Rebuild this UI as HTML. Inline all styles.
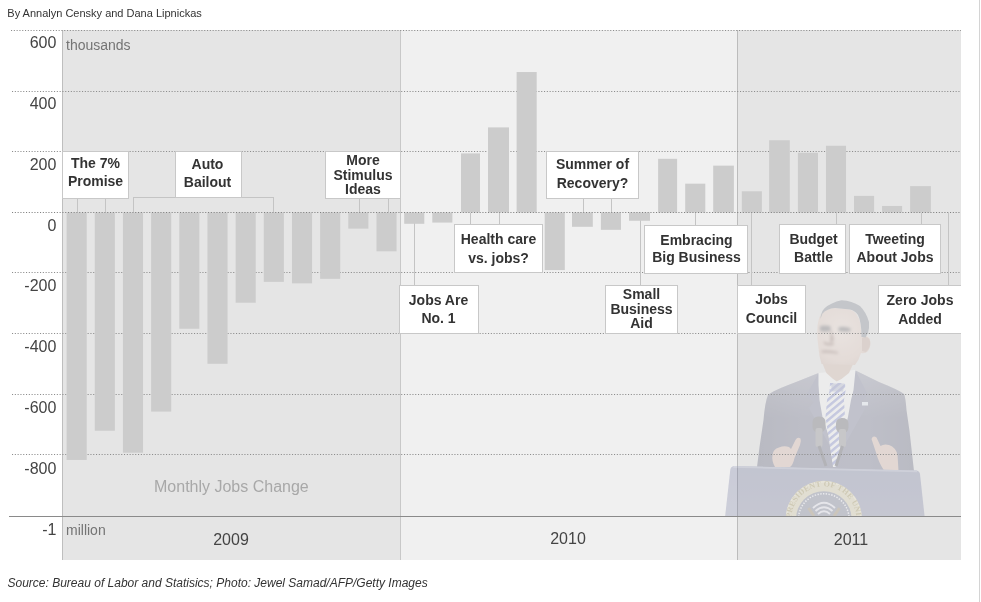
<!DOCTYPE html>
<html lang="en">
<head>
<meta charset="utf-8">
<title>Monthly Jobs Change</title>
<style>
html,body{margin:0;padding:0;background:#fff;}
body{width:981px;height:602px;position:relative;overflow:hidden;font-family:"Liberation Sans",sans-serif;color:#333;}
#c{position:absolute;left:0;top:0;width:981px;height:602px;overflow:hidden;}
#c div{position:absolute;box-sizing:border-box;}
.by{left:7.3px;top:6px;font-size:11px;line-height:14px;color:#333;white-space:nowrap;}
.src{left:7.5px;top:576px;font-size:12px;line-height:14px;font-style:italic;color:#333;white-space:nowrap;}
.reg{top:30px;height:530px;}
.r1{left:62px;width:338px;background:#e5e5e5;border-left:1px solid #bebebe;}
.r2{left:400px;width:337px;background:#f0f0f0;border-left:1px solid #c8c8c8;}
.r3{left:737px;width:224px;background:#e5e5e5;border-left:1px solid #bcbcbc;}
.g{left:11px;width:950px;height:1px;background:repeating-linear-gradient(90deg,#9a9a9a 0,#9a9a9a 1px,transparent 1px,transparent 2.8px);}
.z{left:11px;width:950px;height:1px;background:repeating-linear-gradient(90deg,#777 0,#777 1px,transparent 1px,transparent 2.8px);}
.ax{left:9px;width:952px;top:516px;height:1px;background:#8a8a8a;}
.b{background:#cacaca;width:20px;}
.yl{left:0;width:56.4px;text-align:right;font-size:16px;line-height:18px;color:#444;white-space:nowrap;}
.u{left:66px;font-size:14px;line-height:16px;color:#747474;white-space:nowrap;}
.yr{font-size:16px;line-height:18px;color:#444;text-align:center;width:80px;white-space:nowrap;}
.mj{left:154px;top:477px;font-size:16px;line-height:20px;color:#a8a8a8;white-space:nowrap;}
.bx{background:#fff;border:1px solid #c8c8c8;font-weight:bold;font-size:14px;line-height:18px;color:#333;text-align:center;white-space:nowrap;}
#c .t{left:0;width:100%;height:16px;line-height:16px;}
.v{width:1px;background:#c4c4c4;}
.h{height:1px;background:#c4c4c4;}
.rl{left:979px;top:0;width:1px;height:602px;background:#d4d4d4;}
</style>
</head>
<body>
<div id="c">
<div class="by">By Annalyn Censky and Dana Lipnickas</div>
<div class="reg r1"></div><div class="reg r2"></div><div class="reg r3"></div>
<svg width="981" height="602" viewBox="0 0 981 602" style="position:absolute;left:0;top:0">
<defs>
<clipPath id="pc"><rect x="700" y="290" width="261" height="226"/></clipPath>
<filter id="b1" x="-10%" y="-10%" width="120%" height="120%"><feGaussianBlur stdDeviation="0.6"/></filter>
<filter id="b2" x="-30%" y="-30%" width="160%" height="160%"><feGaussianBlur stdDeviation="1.4"/></filter>
<linearGradient id="suit" x1="0" y1="0" x2="1" y2="0"><stop offset="0" stop-color="#565974"/><stop offset="0.3" stop-color="#636684"/><stop offset="0.7" stop-color="#666a88"/><stop offset="1" stop-color="#595c77"/></linearGradient>
<linearGradient id="suitv" gradientUnits="userSpaceOnUse" x1="0" y1="372" x2="0" y2="418"><stop offset="0" stop-color="#ffffff" stop-opacity="0.22"/><stop offset="1" stop-color="#ffffff" stop-opacity="0"/></linearGradient>
<linearGradient id="pod" x1="0" y1="0" x2="0" y2="1"><stop offset="0" stop-color="#747aa2"/><stop offset="1" stop-color="#7e84a6"/></linearGradient>
<radialGradient id="face" cx="0.45" cy="0.4" r="0.75"><stop offset="0" stop-color="#f2ded4"/><stop offset="0.7" stop-color="#e2c7ba"/><stop offset="1" stop-color="#caac9f"/></radialGradient>
<pattern id="tie" width="6" height="5.2" patternUnits="userSpaceOnUse" patternTransform="rotate(-40)"><rect width="6" height="5.2" fill="#fcffff"/><rect width="6" height="2.5" fill="#7e88d4"/></pattern>
<clipPath id="tiec"><path d="M830,383 L845,383 L845.5,391 L844,400 L845,417 L842,440 L836,467 L833,467 L829,440 L825.5,417 L827,400 L829.5,391 Z"/></clipPath>
<path id="sealarc" d="M791.3,519 A32.5,32.5 0 0 1 856.3,519" fill="none"/>
</defs>
<g clip-path="url(#pc)" opacity="0.30">
<g filter="url(#b1)">
<path fill="url(#suit)" d="M818.5,373 L796,382 Q772,391 768,395 Q765,402 763.5,420 L759.5,447 L757,467 L914,471 L909.5,431 L906.5,410 Q905.5,397 904,394 Q899,390 879,382 L855.5,370.5 L838,400 Z"/>
<path fill="url(#suitv)" d="M818.5,373 L796,382 Q772,391 768,395 Q765,402 763.5,420 L914,420 L906.5,410 Q905.5,397 904,394 Q899,390 879,382 L855.5,370.5 L838,400 Z"/>
<path fill="#707495" d="M818.5,373 L806,396 L814,402 L809,408 L831,448 L823,417 L819,395 Z M855.5,370.5 L868,395 L861,401 L866,407 L843,448 L848,417 L852,395 Z"/>
<path fill="#fcffff" d="M818.5,373 L855.5,370 L853.5,390 L851,400 L848,417 L842,440 L830,440 L822.5,417 L819.5,400 L818.5,385 Z"/>
<path fill="#d4b6a6" d="M821,360 L855,360 L849,373 L841.5,379 L836.7,381.5 L832.5,378.5 L826.3,373 Z"/>
<g clip-path="url(#tiec)"><rect x="820" y="378" width="32" height="92" fill="url(#tie)"/></g>
<path fill="#777eb3" d="M831,383.5 L844.5,383.5 L843,391.5 L832,391.5 Z" opacity="0.55"/>
<rect x="862" y="402" width="6" height="3.5" fill="#e8efff"/>
<rect x="812.5" y="416.5" width="13" height="16" rx="5.5" fill="#595963"/><rect x="815.5" y="428" width="7" height="19" rx="2" fill="#84848b"/>
<rect x="836" y="418" width="12.5" height="15" rx="5.5" fill="#595963"/><rect x="839" y="429" width="7" height="18" rx="2" fill="#84848b"/>
<path d="M819,446 L826,466 M842.5,446 L836,466" stroke="#42424f" stroke-width="3" fill="none"/>
<path fill="#debaac" d="M772.5,455 Q773,449 779,447.5 Q784,445.5 789,447 L791,449 L795.5,440 Q797.5,436.5 800.5,438.5 Q801.5,441 800,445 L794.5,458 Q793,465 790,467 L775,467 Q771.5,461 772.5,455 Z"/>
<path fill="#debaac" d="M871.5,439 Q873,435 876.5,437.5 L880.5,446 Q884,443.5 889,445 Q896,447.5 897.5,455 L898.5,471 L884,470.5 Q878.5,462 876.5,454 Z"/>
<path fill="url(#face)" d="M820.6,314.6 Q827,308 835,308 L850,309.5 Q858,312 860.5,324 L861.5,336 Q866,334.5 869.5,338.5 Q872,345 868,351 Q865,354 861,353 Q859,360 855,365 L821.5,364 Q819,356 818.5,348 Q817,338 817.3,330 Q817.5,321 820.6,314.6 Z"/>
<path fill="#c7a698" d="M862,338 Q868,335 870,341 Q871,347 866,352 L862,351 Z"/>
<path fill="#7a818e" d="M820.4,319 Q821,312 824.3,308.4 Q831,302.5 841.5,300.3 Q852,301 860,306 Q866.5,312.5 869,322 Q869.5,328 868,333 L865.5,337.5 L861.5,337 Q861.5,322 858,315 Q855,310.5 850,309.5 L835,308 Q827,308.5 822.5,313.5 Z"/>
<g filter="url(#b2)"><path fill="#605c60" d="M820,326 Q825,324.8 830.5,326.3 L830.5,331 Q825,332.5 820,331 Z M838.5,327.3 Q844,325.8 850.5,328.3 L850.5,331.3 Q844,332.5 838.5,331 Z"/>
<path fill="#88665c" d="M821.5,350.5 Q829,349.3 838,352 L838,353.8 Q829,352.3 821.5,352.8 Z M823.5,341 Q828,344.5 834,342.5 L833.5,345 Q828,346.5 824,344Z M831,329 L834,340 L830,343 Z"/></g>
</g>
<g filter="url(#b1)">
<path fill="url(#pod)" d="M734.5,466 L916.5,470.5 Q919.5,471 920,474 L925,520 L724.7,520 L730.3,469.5 Q731,466 734.5,466 Z"/>
<path fill="#9ca2c0" d="M734,466 L917,470.5 L917.3,472.3 L733,467.8 Z"/>
<circle cx="823.8" cy="519" r="38.2" fill="#dbd1a9"/>
<circle cx="823.8" cy="519" r="37.2" fill="none" stroke="#efe8c7" stroke-width="1.2"/>
<circle cx="823.8" cy="519" r="27.8" fill="#707792"/>
<circle cx="823.8" cy="519" r="25.3" fill="none" stroke="#f6f6ff" stroke-width="1.5" stroke-dasharray="1.4 1.4"/>
<path d="M813,508 Q824,497.5 835,508 M815.5,511 Q824,503.5 832.5,511 M818,514 Q824,508.5 830,514" stroke="#e8e8f6" stroke-width="1.9" fill="none"/>
<path d="M808.5,508 L814,516 M839.5,508 L834,516" stroke="#927e5c" stroke-width="3" fill="none"/>
</g>
<text font-family="Liberation Serif, serif" font-size="8" font-weight="bold" fill="#9c8b48" letter-spacing="0.2"><textPath href="#sealarc" startOffset="1">PRESIDENT OF THE UNITED</textPath></text>
</g>
</svg>
<svg width="981" height="602" viewBox="0 0 981 602" style="position:absolute;left:0;top:0"><g stroke="#8c8c8c" stroke-width="1" stroke-dasharray="1.1 1.7" fill="none">
<line x1="11.0" y1="30.5" x2="961" y2="30.5"/>
<line x1="12.0" y1="91.5" x2="961" y2="91.5"/>
<line x1="12.0" y1="151.5" x2="961" y2="151.5"/>
<line x1="12.0" y1="272.5" x2="961" y2="272.5"/>
<line x1="12.0" y1="333.5" x2="961" y2="333.5"/>
<line x1="12.0" y1="394.5" x2="961" y2="394.5"/>
<line x1="12.0" y1="454.5" x2="961" y2="454.5"/>
</g></svg>
<div class="v" style="left:77px;top:198px;height:14px"></div>
<div class="v" style="left:105px;top:198px;height:14px"></div>
<div class="v" style="left:133px;top:198px;height:14px"></div>
<div class="v" style="left:273px;top:198px;height:14px"></div>
<div class="v" style="left:359px;top:198px;height:14px"></div>
<div class="v" style="left:388px;top:198px;height:14px"></div>
<div class="v" style="left:583px;top:198px;height:14px"></div>
<div class="v" style="left:611px;top:198px;height:14px"></div>
<div class="h" style="left:133px;top:197px;width:141px"></div>
<div class="v" style="left:470px;top:213px;height:12px"></div>
<div class="v" style="left:499px;top:213px;height:12px"></div>
<div class="v" style="left:695px;top:213px;height:12px"></div>
<div class="v" style="left:836px;top:213px;height:12px"></div>
<div class="v" style="left:921px;top:213px;height:12px"></div>
<div class="v" style="left:414px;top:213px;height:72px"></div>
<div class="v" style="left:640px;top:213px;height:72px"></div>
<div class="v" style="left:751px;top:213px;height:72px"></div>
<div class="v" style="left:948px;top:213px;height:72px"></div>
<svg width="981" height="602" viewBox="0 0 981 602" style="position:absolute;left:0;top:0"><g fill="#cccccc">
<rect x="66.60" y="212.50" width="20.10" height="247.47"/>
<rect x="94.77" y="212.50" width="20.10" height="218.24"/>
<rect x="122.94" y="212.50" width="20.10" height="240.21"/>
<rect x="151.11" y="212.50" width="20.10" height="199.08"/>
<rect x="179.28" y="212.50" width="20.10" height="116.23"/>
<rect x="207.45" y="212.50" width="20.10" height="151.30"/>
<rect x="235.62" y="212.50" width="20.10" height="90.22"/>
<rect x="263.79" y="212.50" width="20.10" height="69.35"/>
<rect x="291.96" y="212.50" width="20.10" height="70.87"/>
<rect x="320.13" y="212.50" width="20.10" height="66.33"/>
<rect x="348.30" y="212.50" width="20.10" height="16.13"/>
<rect x="376.47" y="212.50" width="20.10" height="38.81"/>
<rect x="404.20" y="212.50" width="20.10" height="11.29"/>
<rect x="432.30" y="212.50" width="20.10" height="10.08"/>
<rect x="461.00" y="153.39" width="19.00" height="59.11"/>
<rect x="488.00" y="127.39" width="21.00" height="85.11"/>
<rect x="516.60" y="72.04" width="20.10" height="140.46"/>
<rect x="544.70" y="212.50" width="20.10" height="57.56"/>
<rect x="572.00" y="212.50" width="20.80" height="14.32"/>
<rect x="600.90" y="212.50" width="20.10" height="17.34"/>
<rect x="629.00" y="212.50" width="21.00" height="8.27"/>
<rect x="658.10" y="158.81" width="19.00" height="53.69"/>
<rect x="685.20" y="183.66" width="20.10" height="28.84"/>
<rect x="713.20" y="165.62" width="20.70" height="46.88"/>
<rect x="741.80" y="191.31" width="20.10" height="21.19"/>
<rect x="769.10" y="140.24" width="20.70" height="72.26"/>
<rect x="797.90" y="152.77" width="20.10" height="59.73"/>
<rect x="825.95" y="145.74" width="20.10" height="66.76"/>
<rect x="854.00" y="195.89" width="20.10" height="16.61"/>
<rect x="882.05" y="205.98" width="20.10" height="6.52"/>
<rect x="910.10" y="186.11" width="20.80" height="26.39"/>
</g></svg>
<svg width="981" height="602" viewBox="0 0 981 602" style="position:absolute;left:0;top:0"><line x1="12" y1="212.5" x2="961" y2="212.5" stroke="#808080" stroke-width="1" stroke-dasharray="1.1 1.7" fill="none"/></svg>
<div class="ax"></div>
<div class="yl" style="top:34px">600</div>
<div class="yl" style="top:95px">400</div>
<div class="yl" style="top:156px">200</div>
<div class="yl" style="top:217px">0</div>
<div class="yl" style="top:277px">-200</div>
<div class="yl" style="top:338px">-400</div>
<div class="yl" style="top:399px">-600</div>
<div class="yl" style="top:460px">-800</div>
<div class="yl" style="top:521px">-1</div>
<div class="u" style="top:37px">thousands</div>
<div class="u" style="top:522px">million</div>
<div class="yr" style="left:191px;top:531px">2009</div>
<div class="yr" style="left:528px;top:530px">2010</div>
<div class="yr" style="left:811px;top:531px">2011</div>
<div class="mj">Monthly Jobs Change</div>
<div class="bx" style="left:62px;top:151px;width:67px;height:48px"><div class="t" style="top:3px;left:0px">The 7%</div><div class="t" style="top:21px;left:0px">Promise</div></div>
<div class="bx" style="left:175px;top:151px;width:67px;height:47px"><div class="t" style="top:4px;left:-1px">Auto</div><div class="t" style="top:22px;left:-1px">Bailout</div></div>
<div class="bx" style="left:325px;top:151px;width:76px;height:48px"><div class="t" style="top:0px;left:0px">More</div><div class="t" style="top:15px;left:0px">Stimulus</div><div class="t" style="top:29px;left:0px">Ideas</div></div>
<div class="bx" style="left:546px;top:151px;width:93px;height:48px"><div class="t" style="top:4px;left:0px">Summer of</div><div class="t" style="top:23px;left:0px">Recovery?</div></div>
<div class="bx" style="left:454px;top:224px;width:89px;height:49px"><div class="t" style="top:6px;left:0px">Health care</div><div class="t" style="top:25px;left:0px">vs. jobs?</div></div>
<div class="bx" style="left:644px;top:225px;width:104px;height:49px"><div class="t" style="top:6px;left:0.5px">Embracing</div><div class="t" style="top:23px;left:0.5px">Big Business</div></div>
<div class="bx" style="left:779px;top:224px;width:67px;height:50px"><div class="t" style="top:6px;left:1px">Budget</div><div class="t" style="top:24px;left:1px">Battle</div></div>
<div class="bx" style="left:849px;top:224px;width:92px;height:50px"><div class="t" style="top:6px;left:0px">Tweeting</div><div class="t" style="top:24px;left:0px">About Jobs</div></div>
<div class="bx" style="left:399px;top:285px;width:80px;height:49px"><div class="t" style="top:6px;left:-0.5px">Jobs Are</div><div class="t" style="top:24px;left:-0.5px">No. 1</div></div>
<div class="bx" style="left:605px;top:285px;width:73px;height:49px"><div class="t" style="top:0px;left:0px">Small</div><div class="t" style="top:15px;left:0px">Business</div><div class="t" style="top:29px;left:0px">Aid</div></div>
<div class="bx" style="left:737px;top:285px;width:69px;height:49px"><div class="t" style="top:5px;left:0px">Jobs</div><div class="t" style="top:24px;left:0px">Council</div></div>
<div class="bx" style="left:878px;top:285px;width:84px;height:49px"><div class="t" style="top:6px;left:0px">Zero Jobs</div><div class="t" style="top:25px;left:0px">Added</div></div>
<div class="src">Source: Bureau of Labor and Statisics; Photo: Jewel Samad/AFP/Getty Images</div>
<div class="rl"></div>
<div style="left:961px;top:0;width:18px;height:602px;background:#fff"></div>
</div>
</body>
</html>
